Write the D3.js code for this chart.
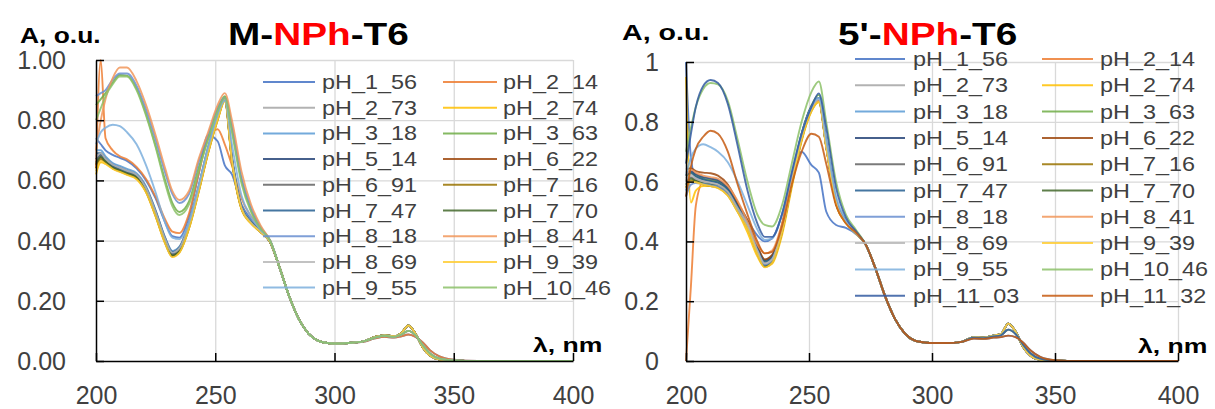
<!DOCTYPE html>
<html><head><meta charset="utf-8">
<script src="https://cdn.jsdelivr.net/npm/d3@7"></script>
<style>
html,body{margin:0;padding:0;background:#fff;}
svg{display:block;}
text{font-family:"Liberation Sans",Arial,sans-serif;}
</style></head><body>
<svg id="c" width="1215" height="409"></svg>
<script>
// ---------- DATA ----------
const wlHead = [200, 202, 204, 207, 210, 213, 217, 221, 225, 229, 232, 235, 239, 243, 247, 251, 254, 257, 261, 265, 269, 273];
const wlTail = [277, 281, 285, 289, 293, 297, 301, 306, 312, 317, 321, 325, 328, 331, 334, 337, 340, 344, 350, 360, 380, 400];
const xTicks = [200, 250, 300, 350, 400];
const yTicks = [0, 0.2, 0.4, 0.6, 0.8, 1.0];

const seriesNamesLeft = ["pH_1_56","pH_2_14","pH_2_73","pH_2_74","pH_3_18","pH_3_63","pH_5_14","pH_6_22","pH_6_91","pH_7_16","pH_7_47","pH_7_70","pH_8_18","pH_8_41","pH_8_69","pH_9_39","pH_9_55","pH_10_46"];
const seriesNamesRight = seriesNamesLeft.concat(["pH_11_03","pH_11_32"]);

// Left panel (M-NPh-T6), absorbance 200-273 nm
const L_pH_1_56  = [0.74, 0.72, 0.70, 0.685, 0.675, 0.665, 0.64, 0.60, 0.54, 0.46, 0.415, 0.41, 0.48, 0.62, 0.75, 0.73, 0.65, 0.62, 0.52, 0.47, 0.435, 0.40];
const L_pH_2_14  = [0.64, 1.00, 0.74, 0.70, 0.68, 0.67, 0.645, 0.605, 0.545, 0.47, 0.43, 0.425, 0.49, 0.62, 0.74, 0.77, 0.72, 0.65, 0.54, 0.48, 0.44, 0.40];
const L_pH_2_73  = [0.68, 0.69, 0.675, 0.655, 0.645, 0.635, 0.62, 0.575, 0.50, 0.41, 0.365, 0.38, 0.46, 0.58, 0.71, 0.815, 0.87, 0.68, 0.515, 0.462, 0.43, 0.395];
const L_pH_2_74  = [0.62, 0.66, 0.655, 0.64, 0.63, 0.62, 0.605, 0.56, 0.48, 0.392, 0.348, 0.362, 0.44, 0.56, 0.69, 0.80, 0.865, 0.665, 0.505, 0.458, 0.428, 0.395];
const L_pH_3_18  = [0.70, 0.70, 0.68, 0.658, 0.648, 0.638, 0.624, 0.58, 0.50, 0.41, 0.366, 0.38, 0.46, 0.58, 0.71, 0.815, 0.875, 0.68, 0.515, 0.465, 0.432, 0.395];
const L_pH_3_63  = [0.85, 0.87, 0.89, 0.925, 0.95, 0.948, 0.905, 0.82, 0.715, 0.60, 0.525, 0.495, 0.53, 0.64, 0.74, 0.835, 0.88, 0.77, 0.60, 0.50, 0.44, 0.40];
const L_pH_5_14  = [0.67, 0.685, 0.67, 0.65, 0.64, 0.63, 0.617, 0.572, 0.493, 0.403, 0.358, 0.372, 0.452, 0.572, 0.70, 0.81, 0.87, 0.672, 0.51, 0.46, 0.43, 0.395];
const L_pH_6_22  = [0.65, 0.675, 0.66, 0.642, 0.632, 0.622, 0.61, 0.565, 0.485, 0.395, 0.35, 0.365, 0.445, 0.565, 0.695, 0.805, 0.868, 0.668, 0.508, 0.46, 0.43, 0.395];
const L_pH_6_91  = [0.66, 0.68, 0.665, 0.645, 0.635, 0.626, 0.612, 0.568, 0.488, 0.398, 0.352, 0.368, 0.448, 0.568, 0.698, 0.808, 0.87, 0.67, 0.51, 0.46, 0.43, 0.395];
const L_pH_7_16  = [0.64, 0.67, 0.66, 0.64, 0.63, 0.62, 0.607, 0.562, 0.482, 0.392, 0.347, 0.362, 0.442, 0.562, 0.692, 0.802, 0.865, 0.665, 0.506, 0.458, 0.428, 0.395];
const L_pH_7_47  = [0.69, 0.69, 0.672, 0.65, 0.64, 0.63, 0.618, 0.575, 0.497, 0.407, 0.362, 0.377, 0.457, 0.577, 0.705, 0.812, 0.872, 0.675, 0.512, 0.462, 0.43, 0.395];
const L_pH_7_70  = [0.655, 0.678, 0.663, 0.643, 0.633, 0.623, 0.61, 0.566, 0.486, 0.396, 0.351, 0.366, 0.446, 0.566, 0.696, 0.806, 0.868, 0.668, 0.508, 0.46, 0.43, 0.395];
const L_pH_8_18  = [0.88, 0.89, 0.90, 0.935, 0.955, 0.955, 0.915, 0.835, 0.735, 0.625, 0.555, 0.525, 0.555, 0.66, 0.75, 0.84, 0.875, 0.78, 0.61, 0.51, 0.445, 0.40];
const L_pH_8_41  = [0.70, 0.80, 0.87, 0.94, 0.975, 0.975, 0.93, 0.85, 0.75, 0.64, 0.565, 0.535, 0.565, 0.67, 0.76, 0.85, 0.89, 0.80, 0.63, 0.52, 0.45, 0.40];
const L_pH_8_69  = [0.675, 0.69, 0.672, 0.652, 0.642, 0.632, 0.619, 0.574, 0.495, 0.405, 0.36, 0.375, 0.455, 0.575, 0.703, 0.81, 0.87, 0.672, 0.51, 0.46, 0.43, 0.395];
const L_pH_9_39  = [0.63, 0.665, 0.655, 0.638, 0.628, 0.618, 0.604, 0.56, 0.48, 0.39, 0.345, 0.36, 0.44, 0.56, 0.69, 0.80, 0.862, 0.662, 0.504, 0.456, 0.428, 0.395];
const L_pH_9_55  = [0.72, 0.76, 0.775, 0.785, 0.78, 0.76, 0.72, 0.65, 0.56, 0.46, 0.41, 0.405, 0.46, 0.58, 0.71, 0.82, 0.865, 0.72, 0.55, 0.48, 0.435, 0.40];
const L_pH_10_46 = [0.80, 0.84, 0.88, 0.92, 0.945, 0.945, 0.90, 0.815, 0.71, 0.59, 0.515, 0.485, 0.52, 0.63, 0.735, 0.83, 0.875, 0.76, 0.59, 0.495, 0.44, 0.40];

// Left panel tails, 277-400 nm
const L_TAIL_B = [0.31, 0.215, 0.14, 0.092, 0.068, 0.06, 0.058, 0.06, 0.065, 0.08, 0.086, 0.082, 0.092, 0.118, 0.09, 0.045, 0.018, 0.005, 0.001, 0, 0, 0];
const L_TAIL_M = [0.31, 0.215, 0.14, 0.092, 0.068, 0.06, 0.058, 0.06, 0.065, 0.078, 0.084, 0.08, 0.088, 0.10, 0.085, 0.052, 0.025, 0.008, 0.002, 0, 0, 0];
const L_TAIL_A = [0.31, 0.215, 0.14, 0.092, 0.068, 0.06, 0.058, 0.06, 0.064, 0.075, 0.08, 0.078, 0.082, 0.088, 0.08, 0.062, 0.036, 0.015, 0.004, 0, 0, 0];
const leftTailKind = ["A","A","B","B","B","M","B","B","B","B","B","B","M","M","B","B","M","M"];

// Right panel (5'-NPh-T6), absorbance 200-273 nm
const R_pH_1_56  = [1.00, 0.68, 0.61, 0.60, 0.59, 0.58, 0.56, 0.52, 0.47, 0.42, 0.40, 0.41, 0.49, 0.61, 0.70, 0.655, 0.63, 0.50, 0.455, 0.445, 0.425, 0.39];
const R_pH_2_14  = [0.00, 0.25, 0.52, 0.60, 0.605, 0.60, 0.575, 0.52, 0.45, 0.37, 0.335, 0.345, 0.44, 0.60, 0.75, 0.845, 0.87, 0.72, 0.53, 0.465, 0.43, 0.39];
const R_pH_2_73  = [0.61, 0.625, 0.615, 0.605, 0.60, 0.595, 0.57, 0.515, 0.46, 0.375, 0.33, 0.345, 0.445, 0.605, 0.755, 0.848, 0.875, 0.722, 0.532, 0.466, 0.43, 0.39];
const R_pH_2_74  = [0.95, 0.53, 0.57, 0.585, 0.585, 0.58, 0.555, 0.50, 0.43, 0.35, 0.315, 0.325, 0.42, 0.58, 0.735, 0.835, 0.865, 0.715, 0.525, 0.462, 0.428, 0.39];
const R_pH_3_18  = [0.57, 0.60, 0.60, 0.595, 0.59, 0.585, 0.56, 0.505, 0.45, 0.365, 0.322, 0.337, 0.437, 0.597, 0.747, 0.843, 0.87, 0.718, 0.528, 0.464, 0.43, 0.39];
const R_pH_3_63  = [0.62, 0.63, 0.62, 0.61, 0.605, 0.60, 0.575, 0.52, 0.465, 0.38, 0.335, 0.35, 0.45, 0.61, 0.76, 0.855, 0.89, 0.735, 0.54, 0.47, 0.432, 0.39];
const R_pH_5_14  = [0.63, 0.635, 0.625, 0.615, 0.61, 0.605, 0.58, 0.525, 0.468, 0.382, 0.338, 0.352, 0.452, 0.612, 0.76, 0.852, 0.88, 0.728, 0.535, 0.468, 0.43, 0.39];
const R_pH_6_22  = [0.64, 0.645, 0.635, 0.63, 0.628, 0.62, 0.59, 0.53, 0.47, 0.385, 0.34, 0.355, 0.455, 0.61, 0.755, 0.845, 0.87, 0.72, 0.53, 0.465, 0.43, 0.39];
const R_pH_6_91  = [0.60, 0.615, 0.605, 0.598, 0.593, 0.588, 0.563, 0.508, 0.452, 0.367, 0.322, 0.337, 0.437, 0.597, 0.747, 0.843, 0.873, 0.72, 0.53, 0.465, 0.43, 0.39];
const R_pH_7_16  = [0.58, 0.605, 0.60, 0.59, 0.585, 0.58, 0.555, 0.50, 0.445, 0.36, 0.315, 0.33, 0.43, 0.59, 0.74, 0.838, 0.868, 0.716, 0.527, 0.463, 0.429, 0.39];
const R_pH_7_47  = [0.62, 0.63, 0.618, 0.608, 0.602, 0.597, 0.572, 0.517, 0.462, 0.377, 0.332, 0.347, 0.447, 0.607, 0.757, 0.85, 0.878, 0.725, 0.533, 0.467, 0.43, 0.39];
const R_pH_7_70  = [0.59, 0.61, 0.602, 0.595, 0.59, 0.585, 0.56, 0.505, 0.448, 0.363, 0.318, 0.333, 0.433, 0.593, 0.743, 0.84, 0.87, 0.718, 0.528, 0.464, 0.43, 0.39];
const R_pH_8_18  = [0.55, 0.59, 0.595, 0.592, 0.588, 0.583, 0.558, 0.503, 0.45, 0.366, 0.322, 0.337, 0.437, 0.597, 0.747, 0.845, 0.875, 0.72, 0.53, 0.465, 0.43, 0.39];
const R_pH_8_41  = [0.62, 0.64, 0.63, 0.62, 0.615, 0.61, 0.585, 0.535, 0.465, 0.39, 0.36, 0.37, 0.46, 0.61, 0.75, 0.845, 0.87, 0.72, 0.53, 0.465, 0.43, 0.39];
const R_pH_8_69  = [0.605, 0.62, 0.61, 0.60, 0.596, 0.59, 0.566, 0.511, 0.456, 0.371, 0.326, 0.341, 0.441, 0.601, 0.751, 0.846, 0.876, 0.721, 0.531, 0.465, 0.43, 0.39];
const R_pH_9_39  = [0.58, 0.60, 0.598, 0.59, 0.585, 0.578, 0.553, 0.498, 0.443, 0.358, 0.313, 0.328, 0.428, 0.588, 0.738, 0.836, 0.866, 0.715, 0.526, 0.462, 0.428, 0.39];
const R_pH_9_55  = [0.62, 0.68, 0.71, 0.725, 0.715, 0.70, 0.665, 0.60, 0.52, 0.44, 0.405, 0.41, 0.49, 0.63, 0.76, 0.85, 0.88, 0.74, 0.55, 0.47, 0.43, 0.39];
const R_pH_10_46 = [0.70, 0.78, 0.85, 0.91, 0.93, 0.925, 0.87, 0.74, 0.60, 0.49, 0.455, 0.45, 0.52, 0.66, 0.80, 0.90, 0.935, 0.80, 0.60, 0.49, 0.44, 0.39];
const R_pH_11_03 = [0.66, 0.76, 0.85, 0.92, 0.94, 0.93, 0.86, 0.72, 0.57, 0.46, 0.415, 0.415, 0.49, 0.63, 0.76, 0.85, 0.895, 0.78, 0.58, 0.48, 0.435, 0.39];
const R_pH_11_32 = [0.55, 0.65, 0.71, 0.75, 0.77, 0.76, 0.70, 0.59, 0.49, 0.40, 0.36, 0.365, 0.45, 0.59, 0.70, 0.76, 0.75, 0.66, 0.52, 0.46, 0.43, 0.39];

// Right panel tails, 277-400 nm
const R_TAIL_B = [0.31, 0.215, 0.14, 0.092, 0.068, 0.062, 0.06, 0.06, 0.064, 0.08, 0.078, 0.085, 0.09, 0.125, 0.098, 0.048, 0.018, 0.004, 0.001, 0, 0, 0];
const R_TAIL_M = [0.31, 0.215, 0.14, 0.092, 0.068, 0.062, 0.06, 0.06, 0.064, 0.078, 0.076, 0.082, 0.086, 0.105, 0.09, 0.055, 0.026, 0.008, 0.002, 0, 0, 0];
const R_TAIL_A = [0.31, 0.215, 0.14, 0.092, 0.068, 0.062, 0.06, 0.06, 0.064, 0.075, 0.074, 0.078, 0.08, 0.085, 0.08, 0.062, 0.036, 0.014, 0.003, 0, 0, 0];
const rightTailKind = ["A","B","B","B","B","B","B","B","B","B","B","B","B","M","B","B","M","M","M","A"];

// ---------- STYLE ----------
const palette = ["#4472C4","#ED7D31","#A5A5A5","#FFC000","#5B9BD5","#70AD47","#264478","#9E480E","#636363","#997300","#255E91","#43682B","#698ED0","#F1975A","#B7B7B7","#FFCD33","#7CAFDD","#8CC168","#335AA1","#C55A11"];

const leftHeads = [L_pH_1_56,L_pH_2_14,L_pH_2_73,L_pH_2_74,L_pH_3_18,L_pH_3_63,L_pH_5_14,L_pH_6_22,L_pH_6_91,L_pH_7_16,L_pH_7_47,L_pH_7_70,L_pH_8_18,L_pH_8_41,L_pH_8_69,L_pH_9_39,L_pH_9_55,L_pH_10_46];
const rightHeads = [R_pH_1_56,R_pH_2_14,R_pH_2_73,R_pH_2_74,R_pH_3_18,R_pH_3_63,R_pH_5_14,R_pH_6_22,R_pH_6_91,R_pH_7_16,R_pH_7_47,R_pH_7_70,R_pH_8_18,R_pH_8_41,R_pH_8_69,R_pH_9_39,R_pH_9_55,R_pH_10_46,R_pH_11_03,R_pH_11_32];
const leftTails = {A: L_TAIL_A, B: L_TAIL_B, M: L_TAIL_M};
const rightTails = {A: R_TAIL_A, B: R_TAIL_B, M: R_TAIL_M};
const wl = wlHead.concat(wlTail);

const svg = d3.select("#c");
const FONT = '"Liberation Sans", Arial, sans-serif';

function stretchedText(parent, x, y, sx, size, weight, parts, fill) {
  const g = parent.append("g").attr("transform", `translate(${x},${y}) scale(${sx},1)`);
  const t = g.append("text").attr("x", 0).attr("y", 0)
    .attr("font-size", size).attr("font-weight", weight).attr("fill", fill || "#000");
  parts.forEach(p => t.append("tspan").attr("fill", p[1]).text(p[0]));
  return t;
}

function panel(cfg) {
  const x = d3.scaleLinear().domain([200, 400]).range([cfg.x0, cfg.x1]);
  const y = d3.scaleLinear().domain([0, 1]).range([cfg.y0, cfg.y1]);
  const g = svg.append("g");
  const W = cfg.x1 - cfg.x0, H = cfg.y0 - cfg.y1;

  // gridlines
  g.append("g").attr("transform", `translate(0,${cfg.y0})`)
    .call(d3.axisBottom(x).tickValues(xTicks.slice(1)).tickSize(-H).tickFormat(""))
    .call(s => { s.select(".domain").remove(); s.selectAll("line").attr("stroke", "#d9d9d9").attr("stroke-width", 1.3); });
  g.append("g").attr("transform", `translate(${cfg.x0},0)`)
    .call(d3.axisLeft(y).tickValues(yTicks.slice(1)).tickSize(-W).tickFormat(""))
    .call(s => { s.select(".domain").remove(); s.selectAll("line").attr("stroke", "#d9d9d9").attr("stroke-width", 1.3); });

  // clip
  const cid = "clip" + cfg.id;
  svg.append("defs").append("clipPath").attr("id", cid).append("rect")
    .attr("x", cfg.x0 - 2).attr("y", cfg.y1 - 4).attr("width", W + 4).attr("height", H + 6);

  const line = d3.line().x(d => x(d[0])).y(d => y(d[1])).curve(d3.curveMonotoneX);
  const lg = g.append("g").attr("clip-path", `url(#${cid})`);
  cfg.heads.forEach((h, i) => {
    const vals = h.concat(cfg.tails[cfg.tailKind[i]]);
    const pts = wl.map((w, k) => [w, vals[k]]);
    lg.append("path").attr("d", line(pts)).attr("fill", "none")
      .attr("stroke", palette[i]).attr("stroke-width", 1.9).attr("stroke-opacity", 0.85)
      .attr("stroke-linejoin", "round");
  });

  // axes
  g.append("g").attr("transform", `translate(${cfg.x0},0)`)
    .call(d3.axisLeft(y).tickValues(yTicks).tickSizeInner(-8).tickSizeOuter(0).tickPadding(cfg.ypad).tickFormat(d3.format(cfg.yfmt)))
    .call(s => {
      s.select(".domain").attr("stroke", "#000").attr("stroke-width", 1.5);
      s.selectAll("line").attr("stroke", "#000").attr("stroke-width", 1.5);
      s.selectAll("text").attr("font-size", 25).attr("font-family", FONT).attr("fill", "#404040").attr("dy", "0.34em");
    });
  g.append("g").attr("transform", `translate(0,${cfg.y0})`)
    .call(d3.axisBottom(x).tickValues(xTicks).tickSizeInner(-8).tickSizeOuter(0).tickPadding(25).tickFormat(d3.format("d")))
    .call(s => {
      s.select(".domain").attr("stroke", "#000").attr("stroke-width", 1.5);
      s.selectAll("line").attr("stroke", "#000").attr("stroke-width", 1.5);
      s.selectAll("text").attr("font-size", 25).attr("font-family", FONT).attr("fill", "#404040");
    });

  // legend
  const leg = g.append("g");
  cfg.names.forEach((n, i) => {
    const col = i % 2, row = Math.floor(i / 2);
    const ly = cfg.legY0 + row * cfg.legStep;
    const lx0 = cfg.legCols[col][0], lx1 = cfg.legCols[col][1], tx = cfg.legCols[col][2];
    leg.append("line").attr("x1", lx0).attr("x2", lx1).attr("y1", ly).attr("y2", ly)
      .attr("stroke", palette[i]).attr("stroke-width", 2).attr("stroke-opacity", 0.85);
    stretchedText(leg, tx, ly + 7, 1.17, 20, "normal", [[n, "#404040"]]);
  });

  // titles and axis labels
  stretchedText(g, cfg.titleX, 45, 1.25, 31, "bold", cfg.title);
  stretchedText(g, cfg.aX, cfg.aY, cfg.aSx, 22, "bold", [["A, o.u.", "#000"]]);
  stretchedText(g, cfg.lamX, cfg.lamY, 1.33, 20, "bold", [["λ, nm", "#000"]]);
}

panel({
  id: "L", x0: 96, x1: 573, y0: 361, y1: 60,
  heads: leftHeads, tails: leftTails, tailKind: leftTailKind, names: seriesNamesLeft,
  ypad: 30, yfmt: ".2f",
  legY0: 82, legStep: 25.7, legCols: [[263, 315, 322], [443, 497, 503]],
  titleX: 228, title: [["M-", "#000"], ["NPh", "#FF0000"], ["-T6", "#000"]],
  aX: 20, aY: 43, aSx: 1.2, lamX: 533, lamY: 352
});
panel({
  id: "R", x0: 686, x1: 1178, y0: 361, y1: 62,
  heads: rightHeads, tails: rightTails, tailKind: rightTailKind, names: seriesNamesRight,
  ypad: 27, yfmt: "~g",
  legY0: 59, legStep: 26.3, legCols: [[855, 905, 913], [1042, 1093, 1100]],
  titleX: 838, title: [["5'-", "#000"], ["NPh", "#FF0000"], ["-T6", "#000"]],
  aX: 622, aY: 40, aSx: 1.3, lamX: 1138, lamY: 353
});
</script>
</body></html>
